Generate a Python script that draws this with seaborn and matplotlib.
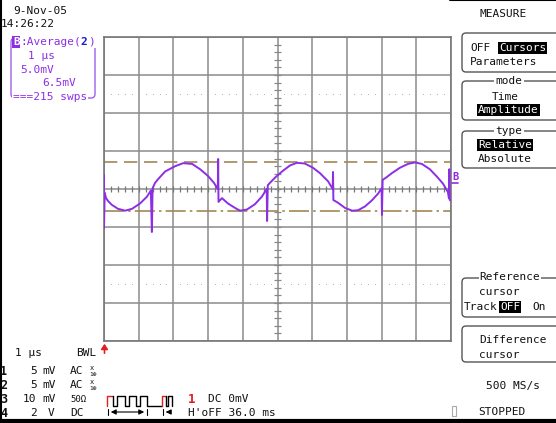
import numpy as np
import matplotlib.pyplot as plt
import matplotlib.patches as mpatches
from matplotlib.lines import Line2D
from matplotlib.transforms import Affine2D
import seaborn as sns

# trace B = average of channel 2, 1 us/div, 5 mV/div
t_us = [0.00, 0.00, 0.02, 0.06, 0.12, 0.23, 0.40, 0.61, 0.81, 1.04,
        1.24, 1.35, 1.38, 1.40, 1.47, 1.56, 1.76, 2.05, 2.28, 2.54,
        2.77, 3.00, 3.17, 3.28, 3.29, 3.30, 3.40, 3.57, 3.78, 3.92,
        4.12, 4.35, 4.55, 4.69, 4.70, 4.72, 4.78, 4.93, 5.13, 5.36,
        5.56, 5.79, 6.02, 6.22, 6.46, 6.59, 6.60, 6.61, 6.74, 6.95,
        7.15, 7.32, 7.52, 7.72, 7.90, 8.00, 8.01, 8.03, 8.13, 8.30,
        8.53, 8.76, 8.96, 9.16, 9.39, 9.60, 9.77, 9.91, 9.94, 9.95,
        9.96, 9.98]
v_mV = [1.84, -5.13, -0.50, -1.20, -1.60, -2.10, -2.60, -2.85, -2.60, -1.90,
        -1.00, -0.20, -5.66, 0.10, 0.80, 1.30, 2.30, 3.00, 3.40, 3.30,
        2.60, 1.70, 0.80, 0.00, 3.95, -1.70, -1.20, -1.90, -2.50, -2.85,
        -2.70, -2.00, -1.00, 0.00, -4.21, 0.50, 0.80, 1.50, 2.30, 3.10,
        3.45, 3.35, 2.80, 2.10, 1.00, 0.00, 2.24, -1.45, -1.80, -2.50,
        -2.85, -2.80, -2.30, -1.50, -0.60, 0.10, -3.42, 1.20, 1.50, 2.10,
        2.80, 3.30, 3.50, 3.30, 2.60, 1.60, 0.70, -0.40, -1.20, 2.60,
        -1.40, -1.50]
cursor_hi = 3.55
cursor_lo = -2.95

date_txt = "9-Nov-05"
time_txt = "14:26:22"
trace_info = ["1 µs", "5.0mV", "6.5mV", "===215 swps"]
chan_rows = [("1", "5", "mV", "AC"), ("2", "5", "mV", "AC"),
             ("3", "10", "mV", "50Ω"), ("4", "2", "V", "DC")]

W, H = 556, 423
purple = "#8c2ee6"
brown = "#a38755"
gridc = "#8c8c8c"
mono = "DejaVu Sans Mono"
fs = 8

sns.set_style("white")
plt.rcParams["font.family"] = [mono, "DejaVu Sans"]

fig = plt.figure(figsize=(W / 100, H / 100), dpi=100)
fig.patch.set_facecolor("white")
ax = fig.add_axes([104 / W, 1 - 341 / H, 347 / W, 304 / H])
ax.set_xlim(0, 10)
ax.set_ylim(-20, 20)
ax.set_xticks(range(0, 11))
ax.set_yticks(range(-20, 21, 5))
ax.set_xticklabels([])
ax.set_yticklabels([])
ax.tick_params(length=0)
ax.grid(True, color=gridc, lw=1.1)
ax.set_axisbelow(True)
for s in ax.spines.values():
    s.set_color("#777777")
    s.set_linewidth(1.2)

# graticule fine marks
fine = np.arange(0.2, 10, 0.2)
ax.vlines(fine, -0.4, 0.4, color="#777777", lw=0.9, zorder=1)
ax.hlines(np.arange(-19, 20, 1), 4.885, 5.115, color="#888888", lw=0.9, zorder=1)
dots = fine[np.abs(fine - np.round(fine)) > 0.05]
for yy in (12.5, -12.5):
    ax.scatter(dots, np.full(len(dots), yy), s=0.4, color="#aaaaaa",
               linewidths=0, zorder=1)

ax.axhline(cursor_hi, color=brown, lw=1.2, ls=(0, (8, 4)), zorder=2)
ax.axhline(cursor_lo, color=brown, lw=1.2, ls=(0, (12, 2.5, 1.5, 2.5)), zorder=2)

sns.lineplot(x=t_us, y=v_mV, sort=False, estimator=None, color=purple,
             lw=1.4, ax=ax, zorder=3)
ax.set_xlabel("")
ax.set_ylabel("")

# pixel transform for the screen furniture
pix = Affine2D().scale(1 / W, -1 / H).translate(0, 1) + fig.transFigure


def put(x, y, s, size=fs, **kw):
    kw.setdefault("ha", "left")
    kw.setdefault("color", "#111111")
    fig.text(x / W, 1 - y / H, s, va="center", fontsize=size, **kw)


def inv(x, y, s, ha="left"):
    put(x, y, s, color="white", ha=ha,
        bbox=dict(boxstyle="square,pad=0.08", fc="black", ec="none"))


def box(x0, y0, x1, y1, color="#555555"):
    p = mpatches.FancyBboxPatch((x0, y0), x1 - x0, y1 - y0,
                                boxstyle="round,pad=0,rounding_size=4",
                                fc="none", ec=color, lw=1, transform=pix)
    fig.patches.append(p)


def seg(xs, ys, color="black", lw=1):
    fig.lines.append(Line2D(xs, ys, color=color, lw=lw, transform=pix))


# borders
seg([1, 1], [0, 423], lw=1.5)
seg([0, 556], [421.5, 421.5], lw=3)
seg([450, 556], [0.5, 0.5], lw=1.5)

# top left
put(13, 11, date_txt)
put(1, 24, time_txt)
box(11, 38, 95, 98, color="#a060e8")
# white strip hiding the top edge of the box behind the title
fig.patches.append(mpatches.Rectangle((19, 35), 80, 13, fc="white", ec="none",
                                      transform=pix))
put(13, 42, "B", color="white", weight="bold",
    bbox=dict(boxstyle="square,pad=0.05", fc=purple, ec="none"))
put(20, 42, ":Average(", color=purple)
put(80.5, 42, "2", color="#1a1acc", weight="bold")
put(88, 42, ")", color=purple)
put(28, 56, trace_info[0], color=purple)
put(20, 70, trace_info[1], color=purple)
put(42, 83, trace_info[2], color=purple)
put(13, 97, trace_info[3], color=purple,
    bbox=dict(boxstyle="square,pad=0.05", fc="white", ec="none"))

# right menu
put(503, 14, "MEASURE", ha="center")
box(462, 33, 562, 72)
put(470, 48, "OFF")
inv(499, 48, "Cursors")
put(470, 62, "Parameters")
box(462, 81, 562, 120)
put(509, 81, "mode", ha="center",
    bbox=dict(boxstyle="square,pad=0.1", fc="white", ec="none"))
put(505, 97, "Time", ha="center")
inv(478, 110, "Amplitude")
box(462, 131, 562, 168)
put(509, 131, "type", ha="center",
    bbox=dict(boxstyle="square,pad=0.1", fc="white", ec="none"))
inv(478, 145, "Relative")
put(478, 159, "Absolute")
box(462, 278, 562, 317)
put(510, 277, "Reference", ha="center",
    bbox=dict(boxstyle="square,pad=0.1", fc="white", ec="none"))
put(479, 292, "cursor")
put(464, 307, "Track")
inv(500, 307, "OFF")
put(532, 307, "On")
box(462, 326, 562, 362)
put(479, 340, "Difference")
put(479, 355, "cursor")
put(486, 386, "500 MS/s")
fig.patches.append(mpatches.Rectangle((452, 406), 4, 10, fc="none",
                                      ec="#aaaaaa", lw=0.8, transform=pix))
put(478, 412, "STOPPED")

# channel B marker at the right edge
put(452.5, 177, "B", color=purple, size=7.5, weight="bold")
seg([452, 458], [183.5, 183.5], color=purple, lw=1.2)

# trigger position arrow
fig.patches.append(mpatches.FancyArrowPatch((104.5, 356), (104.5, 341),
                   arrowstyle="-|>,head_length=3,head_width=2",
                   color="#e02020", lw=1.2, transform=pix))

# bottom left channel table
put(15, 353, trace_info[0])
put(76, 353, "BWL")
rows_y = [371, 385, 399, 413]
for yy, (num, val, unit, cpl) in zip(rows_y, chan_rows):
    put(0, yy, num, weight="bold", size=8.5)
    put(30 - 7 * (len(val) - 1), yy, val)
    put(42 if unit == "mV" else 48, yy, unit)
    if cpl == "50Ω":
        put(70, yy, cpl, size=6.5)
    else:
        put(70, yy, cpl)
    if cpl == "AC":
        put(90, yy - 3, "x", size=5)
        put(89, yy + 3, "1⊕", size=4.5)

# trigger pattern sketch
seg([107.3, 107.3, 113.3], [406, 396, 396], color="#e02020")
seg([113.3, 113.3, 117.3, 117.3, 125, 125, 129, 129, 136, 136, 140, 140,
     146.7, 146.7, 162.3],
    [396, 406, 406, 396, 396, 406, 406, 396, 396, 406, 406, 396,
     396, 406, 406])
seg([162.3, 162.3, 165.7], [406, 396, 396], color="#e02020")
seg([165.7, 165.7, 168.3, 168.3, 171.7, 171.7], [396, 406, 406, 396, 396, 406])
fig.patches.append(mpatches.FancyArrowPatch((108, 412), (147, 412),
                   arrowstyle="<|-|>,head_length=3,head_width=1.5",
                   color="black", lw=0.8, transform=pix))
seg([108, 108], [409, 415], lw=0.8)
seg([147, 147], [409, 415], lw=0.8)
seg([162.5, 162.5], [409, 415], lw=0.8)
fig.patches.append(mpatches.FancyArrowPatch((171, 412), (163, 412),
                   arrowstyle="-|>,head_length=3,head_width=1.5",
                   color="black", lw=0.8, transform=pix))

put(188, 399, "1", color="#e02020", weight="bold", size=9)
put(208, 399, "DC 0mV")
put(188, 413, "H'oFF 36.0 ms")

fig.savefig("out.png", dpi=100)
